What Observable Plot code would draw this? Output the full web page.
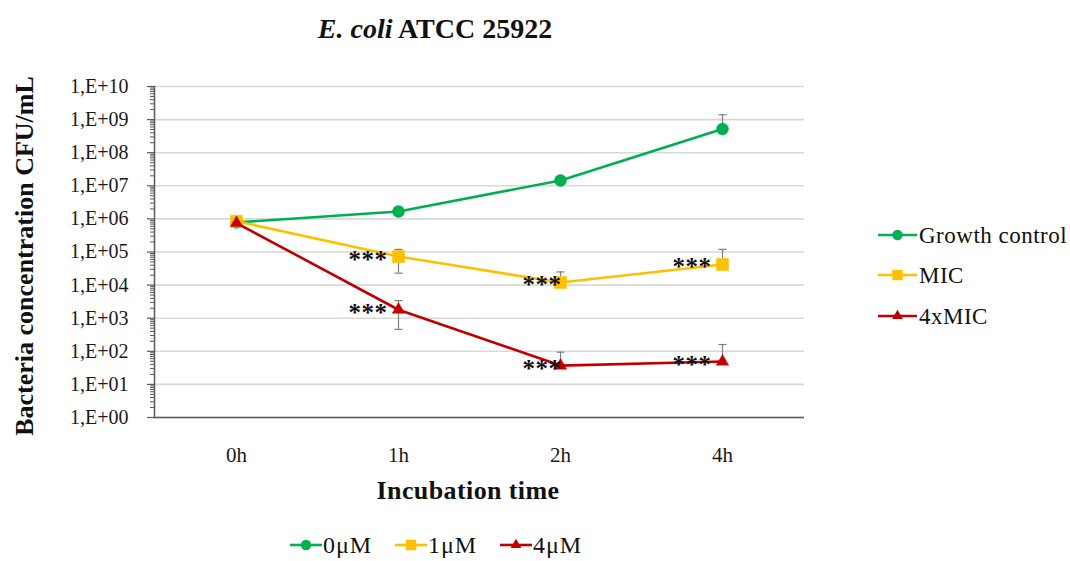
<!DOCTYPE html>
<html><head><meta charset="utf-8">
<script src="https://cdn.jsdelivr.net/npm/d3@7"></script>
<script src="https://cdn.jsdelivr.net/npm/@observablehq/plot@0.6"></script>
<style>
body{margin:0;background:#fff}
#wrap{position:relative;width:1070px;height:561px;font-family:"Liberation Serif",serif;background:#fff}
#wrap svg{position:absolute;left:0;top:0}
#wrap svg text{font-family:"Liberation Serif",serif !important}
</style></head><body><div id="wrap"></div>
<script>
// ---- data ----
const times = ["0h", "1h", "2h", "4h"];
const seriesNames = ["Growth control", "MIC", "4xMIC"];
const concLabels = ["0μM", "1μM", "4μM"];
const growthControl = [7.8e5, 1.67e6, 1.45e7, 5.2e8];
const growthControlHi = [null, null, null, 1.4e9];
const growthControlLo = [null, null, null, null];
const mic = [8.5e5, 7.3e4, 1.2e4, 4.2e4];
const micHi = [null, 1.2e5, 2.5e4, 1.2e5];
const micLo = [null, 2.3e4, null, null];
const mic4x = [7.5e5, 1.8e3, 37, 49];
const mic4xHi = [null, 3.4e3, 94, 160];
const mic4xLo = [null, 4.6e2, null, null];
const growthStars = ["", "", "", ""];
const micStars = ["", "***", "***", "***"];
const mic4xStars = ["", "***", "***", "***"];
const yTickExponents = [0, 1, 2, 3, 4, 5, 6, 7, 8, 9, 10];

// ---- styles ----
const FONT = '"Liberation Serif", "Times New Roman", serif';
const colors = ["#00b050", "#ffc000", "#c00000"];
const symbols = ["circle", "square", "triangle"];
const symbolR = [6, 6.8, 4.6];

const values = [growthControl, mic, mic4x];
const his = [growthControlHi, micHi, mic4xHi];
const los = [growthControlLo, micLo, mic4xLo];
const stars = [growthStars, micStars, mic4xStars];

const rows = [];
seriesNames.forEach((s, si) => times.forEach((t, ti) => rows.push({
  series: s, si, time: t, value: values[si][ti], hi: his[si][ti], lo: los[si][ti], star: stars[si][ti]
})));

const yTicks = yTickExponents.map(e => 10 ** e);
const minorTicks = [];
yTickExponents.slice(0, -1).forEach(e => { for (let k = 2; k <= 9; k++) minorTicks.push(k * 10 ** e); });
const fmt = v => "1,E+" + String(Math.round(Math.log10(v))).padStart(2, "0");

const errRows = rows.filter(d => d.hi != null || d.lo != null);
const starRows = rows.filter(d => d.star);

// horizontal cap symbol for error bars
const capSymbol = {draw(ctx, size) { const w = Math.sqrt(size / Math.PI); ctx.moveTo(-w, 0); ctx.lineTo(w, 0); }};

const seriesMarks = [];
seriesNames.forEach((s, si) => {
  const data = rows.filter(d => d.si === si);
  seriesMarks.push(
    Plot.line(data, {x: "time", y: "value", stroke: colors[si], strokeWidth: 2.6}),
    Plot.dot(data, {x: "time", y: "value", symbol: symbols[si], fill: colors[si], stroke: colors[si], strokeWidth: 0.5, r: symbolR[si]})
  );
});

const chart = Plot.plot({
  width: 1070, height: 561,
  marginLeft: 154, marginRight: 266, marginTop: 86, marginBottom: 144,
  style: {fontFamily: FONT, background: "transparent", color: "#1a1a1a", overflow: "visible"},
  x: {type: "point", domain: times, padding: 0.5, label: null},
  y: {type: "log", domain: [1, 1e10], label: null},
  marks: [
    Plot.gridY(yTicks, {stroke: "#d9d9d9", strokeOpacity: 1, strokeWidth: 1.6}),
    Plot.axisY(minorTicks, {tickSize: 4, text: null, stroke: "#595959", strokeWidth: 1}),
    Plot.axisY(yTicks, {tickSize: 7, tickPadding: 19, tickFormat: fmt, fontSize: 20, stroke: "#595959", strokeWidth: 1.2, label: null}),
    Plot.ruleY([1], {stroke: "#595959", strokeWidth: 1.5}),
    Plot.frame({anchor: "left", stroke: "#595959", strokeWidth: 1.5}),
    Plot.axisX({tickSize: 0, tickPadding: 30, fontSize: 21, label: null}),
    Plot.ruleX(errRows, {x: "time", y1: d => d.lo ?? d.value, y2: d => d.hi ?? d.value, stroke: "#808080", strokeWidth: 1.2}),
    Plot.dot(errRows.filter(d => d.hi != null), {x: "time", y: "hi", symbol: capSymbol, r: 4, stroke: "#808080", strokeWidth: 1.2, fill: "none"}),
    Plot.dot(errRows.filter(d => d.lo != null), {x: "time", y: "lo", symbol: capSymbol, r: 4, stroke: "#808080", strokeWidth: 1.2, fill: "none"}),
    ...seriesMarks,
    Plot.text(starRows.filter(d => d.time !== "2h"), {x: "time", y: "value", text: "star", textAnchor: "end", dx: -11, dy: 3, fontSize: 25, fontWeight: 600, fill: "#111"}),
    Plot.text(starRows.filter(d => d.time === "2h"), {x: "time", y: "value", text: "star", textAnchor: "end", dx: 1, dy: 3, fontSize: 25, fontWeight: 600, fill: "#111"})
  ]
});
chart.setAttribute("font-family", FONT);
chart.querySelectorAll("text").forEach(t => { t.style.fontFamily = FONT; });
chart.querySelectorAll('g[aria-label="text"] text').forEach(t => t.setAttribute("letter-spacing", "0.5"));
const wrap = document.getElementById("wrap");
wrap.appendChild(chart);

// ---- overlay: titles and legends ----
const ov = d3.select(wrap).append("svg").attr("width", 1070).attr("height", 561)
  .style("font-family", FONT).style("pointer-events", "none");

const title = ov.append("text").attr("x", 435).attr("y", 38).attr("text-anchor", "middle")
  .attr("font-size", 28).attr("font-weight", "bold").attr("fill", "#111");
title.append("tspan").attr("font-style", "italic").text("E. coli");
title.append("tspan").text(" ATCC 25922");

ov.append("text").attr("transform", "translate(33,256) rotate(-90)").attr("text-anchor", "middle")
  .attr("font-size", 26).attr("font-weight", "bold").attr("fill", "#111").text("Bacteria concentration CFU/mL");

ov.append("text").attr("x", 468).attr("y", 499).attr("text-anchor", "middle")
  .attr("font-size", 26).attr("font-weight", "bold").attr("letter-spacing", 0.4).attr("fill", "#111").text("Incubation time");

const symGen = {circle: d3.symbolCircle, square: d3.symbolSquare, triangle: d3.symbolTriangle};
function swatch(g, x0, x1, cy, si) {
  g.append("line").attr("x1", x0).attr("x2", x1).attr("y1", cy).attr("y2", cy)
    .attr("stroke", colors[si]).attr("stroke-width", 2.6);
  const size = Math.PI * symbolR[si] * symbolR[si] * 0.75;
  g.append("path").attr("d", d3.symbol(symGen[symbols[si]], size)())
    .attr("transform", `translate(${(x0 + x1) / 2},${cy})`).attr("fill", colors[si]);
}

const rightY = [235, 275, 316];
seriesNames.forEach((s, si) => {
  const g = ov.append("g");
  swatch(g, 878, 917, rightY[si], si);
  g.append("text").attr("x", 919).attr("y", rightY[si] + 8).attr("font-size", 23)
    .attr("letter-spacing", 0.5).attr("fill", "#111").text(s);
});

const bottomX = [290, 395, 500];
concLabels.forEach((s, si) => {
  const g = ov.append("g");
  swatch(g, bottomX[si], bottomX[si] + 32, 545, si);
  g.append("text").attr("x", bottomX[si] + 33).attr("y", 553).attr("font-size", 24)
    .attr("letter-spacing", 1).attr("fill", "#111").text(s);
});
</script></body></html>
